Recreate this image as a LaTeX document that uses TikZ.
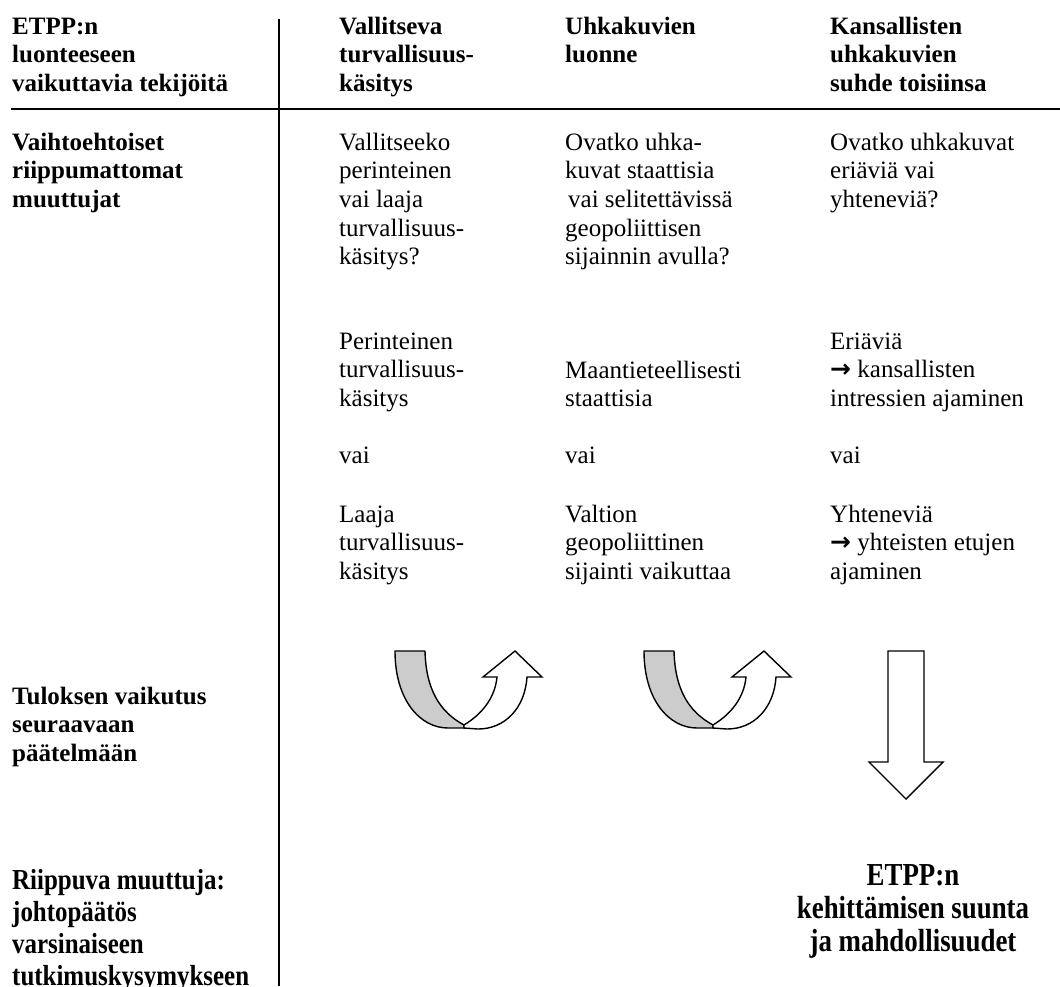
\documentclass[tikz,border=0pt]{standalone}
\usepackage{fontspec}
\setmainfont{Liberation Serif}
\newfontfamily\symfont{DejaVu Sans}
\newfontfamily\condfont[FakeStretch=0.86]{Liberation Serif}
\newfontfamily\condfontb[FakeStretch=0.84]{Liberation Serif}
\newcommand{\rarr}{{\symfont\bfseries →}}
\begin{document}
\begin{tikzpicture}[x=1pt,y=-1pt,
  txt/.style={anchor=base west, align=left, inner sep=0pt, font=\fontsize{25}{28.7}\selectfont},
  hd/.style={anchor=base west, align=left, inner sep=0pt, font=\fontsize{25}{28.7}\selectfont\bfseries},
  dep/.style={anchor=base west, align=left, inner sep=0pt, font=\condfont\fontsize{29}{32}\selectfont\bfseries},
  res/.style={anchor=base, align=center, inner sep=0pt, font=\condfontb\fontsize{32}{33}\selectfont\bfseries},
  grid/.style={draw=black, line width=1.3pt},
  band/.style={draw=black, line width=1.4pt, line join=round, fill=gray!40},
  front/.style={draw=black, line width=1.4pt, line join=miter, fill=white}]
\useasboundingbox (0,0) rectangle (1060,986);
% grid lines
\coordinate (hl0) at (11,109); \coordinate (hl1) at (1060,109);
\coordinate (vl0) at (279,19); \coordinate (vl1) at (279,986);
\draw[grid] (hl0) -- (hl1);
\draw[grid] (vl0) -- (vl1);
% header (anchor = baseline of the last line)
\node[hd] (h1) at (12,91.4) {ETPP:n\\luonteeseen\\vaikuttavia tekijöitä};
\node[hd] (h2) at (339,91.4) {Vallitseva\\turvallisuus-\\käsitys};
\node[hd] (h3) at (565,62.7) {Uhkakuvien\\luonne};
\node[hd] (h4) at (830,91.4) {Kansallisten\\uhkakuvien\\suhde toisiinsa};
% row: independent variables
\node[hd] (r1) at (12,207.4) {Vaihtoehtoiset\\riippumattomat\\muuttujat};
\node[txt] (q1) at (339,264.8) {Vallitseeko\\perinteinen\\vai laaja\\turvallisuus-\\käsitys?};
\node[txt] (q2) at (565,264.8) {Ovatko uhka-\\kuvat staattisia\\\hspace{3pt}vai selitettävissä\\geopoliittisen\\sijainnin avulla?};
\node[txt] (q3) at (830,207.4) {Ovatko uhkakuvat\\eriäviä vai\\yhteneviä?};
% alternatives
\node[txt] (a1) at (339,406.4) {Perinteinen\\turvallisuus-\\käsitys};
\node[txt] (b1) at (565,406.7) {Maantieteellisesti\\staattisia};
\node[txt] (c1) at (830,406.4) {Eriäviä\\\rarr\ kansallisten\\intressien ajaminen};
\node[txt] (v1) at (339,463) {vai};
\node[txt] (v2) at (565,463) {vai};
\node[txt] (v3) at (830,463) {vai};
\node[txt] (a2) at (339,579.4) {Laaja\\turvallisuus-\\käsitys};
\node[txt] (b2) at (565,579.4) {Valtion\\geopoliittinen\\sijainti vaikuttaa};
\node[txt] (c2) at (830,579.4) {Yhteneviä\\\rarr\ yhteisten etujen\\ajaminen};
% effect row
\node[hd] (t1) at (12,761.4) {Tuloksen vaikutus\\seuraavaan\\päätelmään};
% U-turn arrows
\foreach \s in {0,249}{
  \begin{scope}[shift={(\s,0)}]
    \path[band] (395,651) -- (425,651) .. controls (426,690) and (440,712) .. (464,725)
      -- (464,728) -- (448,728) .. controls (420,728) and (395,700) .. (395,651) -- cycle;
    \path[front] (464,725) .. controls (482,714) and (495,698) .. (497,677) -- (483,677)
      -- (515,651) -- (542,677) -- (527,677) .. controls (525,708) and (505,729) .. (478,729)
      -- (464,728) -- cycle;
  \end{scope}
}
% down arrow
\path[front] (888,651) -- (924,651) -- (924,762) -- (943,762) -- (906,799) -- (869,762) -- (888,762) -- cycle;
% dependent variable
\node[dep] (d1) at (12,985) {Riippuva muuttuja:\\johtopäätös\\varsinaiseen\\tutkimuskysymykseen};
\node[res] (e1) at (913,951) {ETPP:n\\kehittämisen suunta\\ja mahdollisuudet};
\end{tikzpicture}
\end{document}
